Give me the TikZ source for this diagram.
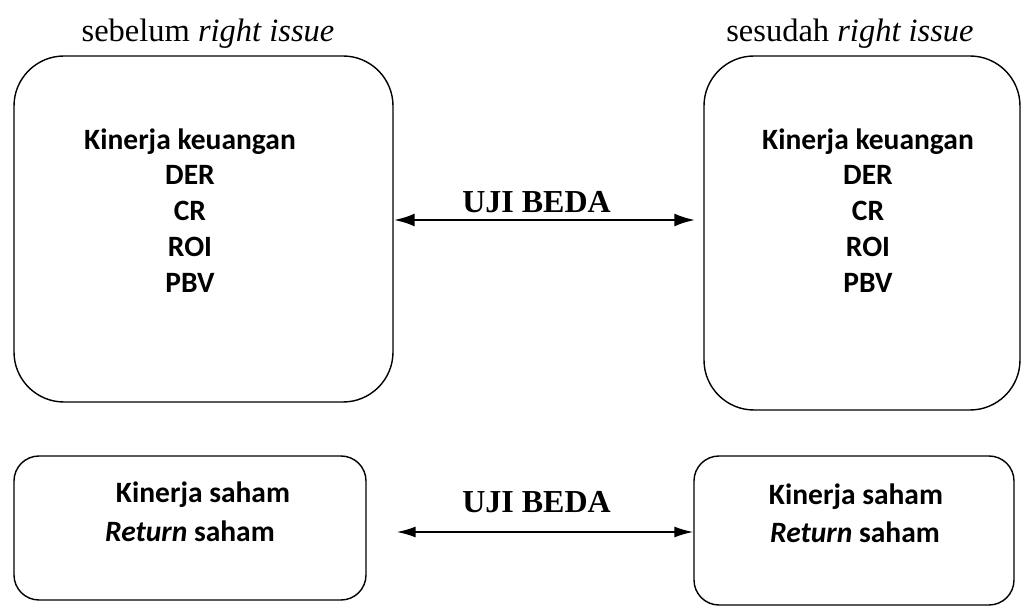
\documentclass[tikz,border=0pt]{standalone}
\usepackage{fontspec}
\setmainfont{Liberation Serif}
\newfontfamily\calfont{Carlito}
\usetikzlibrary{arrows.meta}
\begin{document}
\begin{tikzpicture}[x=1pt,y=1pt,
  box/.style={draw,line width=1.4pt,rounded corners=#1,inner sep=0pt},
  btxt/.style={font=\calfont\bfseries\fontsize{29.5}{35}\selectfont,inner sep=0pt,anchor=base},
  ttl/.style={font=\fontsize{32.5}{36}\selectfont,inner sep=0pt,anchor=base},
  lbl/.style={font=\bfseries\fontsize{32}{36}\selectfont,inner sep=0pt,anchor=base},
  arrT/.style={line width=2.8pt,{Latex[length=21pt,width=13pt]}-{Latex[length=21pt,width=13pt]}},
  arrB/.style={line width=1.7pt,{Latex[length=19pt,width=11pt]}-{Latex[length=19pt,width=11pt]}}]
\useasboundingbox (0,0) rectangle (1021,608);
% boxes (y = 608 - pixel y)
\node[box=50pt,minimum width=379pt,minimum height=346pt] (tl) at (203.5,379) {};
\node[box=50pt,minimum width=316pt,minimum height=354pt] (tr) at (862,375) {};
\node[box=25pt,minimum width=352pt,minimum height=144pt] (bl) at (190,80) {};
\node[box=25pt,minimum width=320pt,minimum height=149pt] (br) at (854,77.5) {};
% titles
\node[ttl] (t1) at (208,566) {sebelum \textit{right issue}};
\node[ttl] (t2) at (850,566) {sesudah \textit{right issue}};
% top-left texts
\node[btxt] (a1) at (190,458) {Kinerja keuangan};
\node[btxt] (a2) at (190,423) {DER};
\node[btxt] (a3) at (190,387) {CR};
\node[btxt] (a4) at (190,351) {ROI};
\node[btxt] (a5) at (190,315) {PBV};
% top-right texts
\node[btxt] (b1) at (868,458) {Kinerja keuangan};
\node[btxt] (b2) at (868,423) {DER};
\node[btxt] (b3) at (868,387) {CR};
\node[btxt] (b4) at (868,351) {ROI};
\node[btxt] (b5) at (868,315) {PBV};
% bottom texts
\node[btxt] (c1) at (203,105) {Kinerja saham};
\node[btxt] (c2) at (190,66) {\textit{Return} saham};
\node[btxt] (d1) at (856,103) {Kinerja saham};
\node[btxt] (d2) at (855,65) {\textit{Return} saham};
% arrows
\draw[arrT] ([yshift=9pt]tl.east) -- ([xshift=-8pt,yshift=13pt]tr.west);
\node[lbl] (u1) at (536.5,395) {UJI BEDA};
\draw[arrB] ([xshift=30pt,yshift=-4pt]bl.east) -- ([yshift=-1.5pt]br.west);
\node[lbl] (u2) at (536.5,95) {UJI BEDA};
\end{tikzpicture}
\end{document}
